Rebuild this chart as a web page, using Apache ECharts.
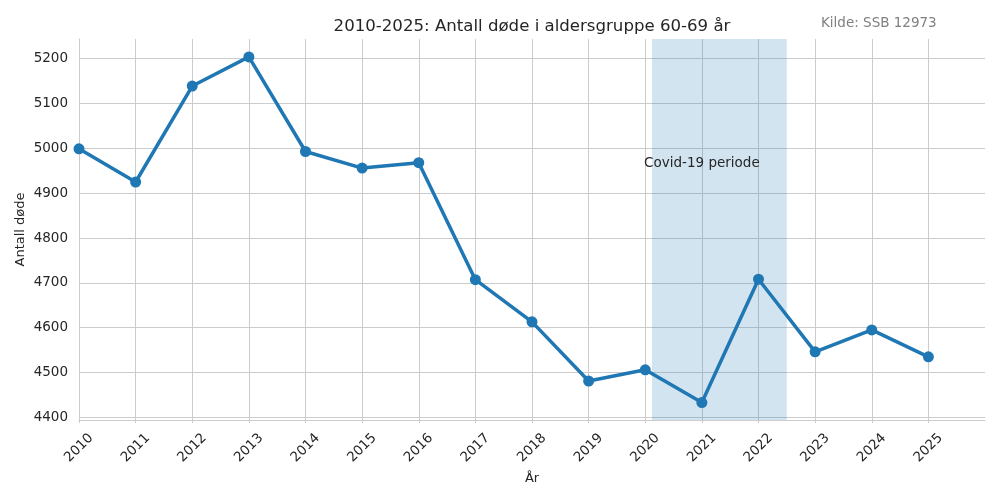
<!DOCTYPE html>
<html>
<head>
  <meta charset="utf-8" />
  <title>Antall døde 60-69 år</title>
  <script src="https://cdn.jsdelivr.net/npm/echarts@6/dist/echarts.min.js"></script>
  <style>
    html, body { margin: 0; padding: 0; background: #fff; }
    #chart { width: 1000px; height: 500px; }
  </style>
</head>
<body>
  <div id="chart"></div>
  <script>
    // årstall og antall døde (aldersgruppe 60-69)
    var years = [2010, 2011, 2012, 2013, 2014, 2015, 2016, 2017, 2018, 2019, 2020, 2021, 2022, 2023, 2024, 2025];
    var deaths = [4999, 4925, 5139, 5204, 4993, 4956, 4968, 4707, 4613, 4481, 4506, 4433, 4708, 4546, 4595, 4535];
    // covid-periode (ca. feb 2020 - juli 2022) og plassering av teksten
    var covidSpan = [2020.12, 2022.5];
    var covidLabel = { text: 'Covid-19 periode', x: 2021, y: 4966 };
    var xRange = [2010, 2026];
    var yRange = [4394, 5244];

    var font = 'DejaVu Sans';
    var txt = '#262626';
    var gridCol = '#cccccc';

    var chart = echarts.init(document.getElementById('chart'));

    var option = {
      animation: false,
      textStyle: { fontFamily: font },
      title: [{
        text: '2010-2025: Antall døde i aldersgruppe 60-69 år',
        left: 532,
        textAlign: 'center',
        top: 18,
        padding: 0,
        textStyle: { fontFamily: font, fontSize: 16.6, fontWeight: 'normal', color: txt }
      }, {
        text: 'Kilde: SSB 12973',
        left: 821,
        top: 16,
        padding: 0,
        textStyle: { fontFamily: font, fontSize: 13.5, fontWeight: 'normal', color: '#808080' }
      }],
      grid: { left: 79, right: 15, top: 39, bottom: 80 },
      xAxis: {
        type: 'value',
        min: xRange[0],
        max: xRange[1],
        interval: 1,
        name: 'År',
        nameLocation: 'middle',
        nameGap: 51,
        nameTextStyle: { fontFamily: font, fontSize: 13, color: txt },
        axisLine: { show: true, onZero: false, lineStyle: { color: gridCol, width: 1.2 } },
        axisTick: { show: true, length: 3, lineStyle: { color: gridCol } },
        axisLabel: {
          rotate: 45,
          align: 'center',
          verticalAlign: 'middle',
          margin: 28,
          showMaxLabel: false,
          fontFamily: font,
          fontSize: 13.5,
          color: txt,
          formatter: function (v) { return String(v); }
        },
        splitLine: { show: true, showMaxLine: false, lineStyle: { color: gridCol, width: 1 } }
      },
      yAxis: {
        type: 'value',
        min: yRange[0],
        max: yRange[1],
        splitNumber: 8,
        name: 'Antall døde',
        nameLocation: 'middle',
        nameGap: 52,
        nameMoveOverlap: false,
        nameTextStyle: { fontFamily: font, fontSize: 13, color: txt },
        axisLine: { show: true, lineStyle: { color: gridCol } },
        axisTick: { show: false },
        axisLabel: {
          margin: 11,
          showMinLabel: false,
          showMaxLabel: false,
          fontFamily: font,
          fontSize: 13.5,
          color: txt,
          formatter: function (v) { return String(v); }
        },
        splitLine: { show: true, showMaxLine: false, showMinLine: false, lineStyle: { color: gridCol, width: 1 } }
      },
      series: [{
        type: 'line',
        data: years.map(function (y, i) { return [y, deaths[i]]; }),
        symbol: 'circle',
        symbolSize: 11,
        lineStyle: { color: '#1f77b4', width: 3.5 },
        itemStyle: { color: '#1f77b4' },
        z: 3,
        markArea: {
          silent: true,
          itemStyle: { color: 'rgba(31,119,180,0.2)' },
          data: [[{ xAxis: covidSpan[0] }, { xAxis: covidSpan[1] }]]
        },
        markPoint: {
          silent: true,
          symbol: 'circle',
          symbolSize: 0,
          label: {
            show: true,
            position: 'inside',
            formatter: covidLabel.text,
            fontFamily: font,
            fontSize: 13.5,
            color: txt
          },
          data: [{ coord: [covidLabel.x, covidLabel.y] }]
        }
      }]
    };

    chart.setOption(option);
  </script>
</body>
</html>
